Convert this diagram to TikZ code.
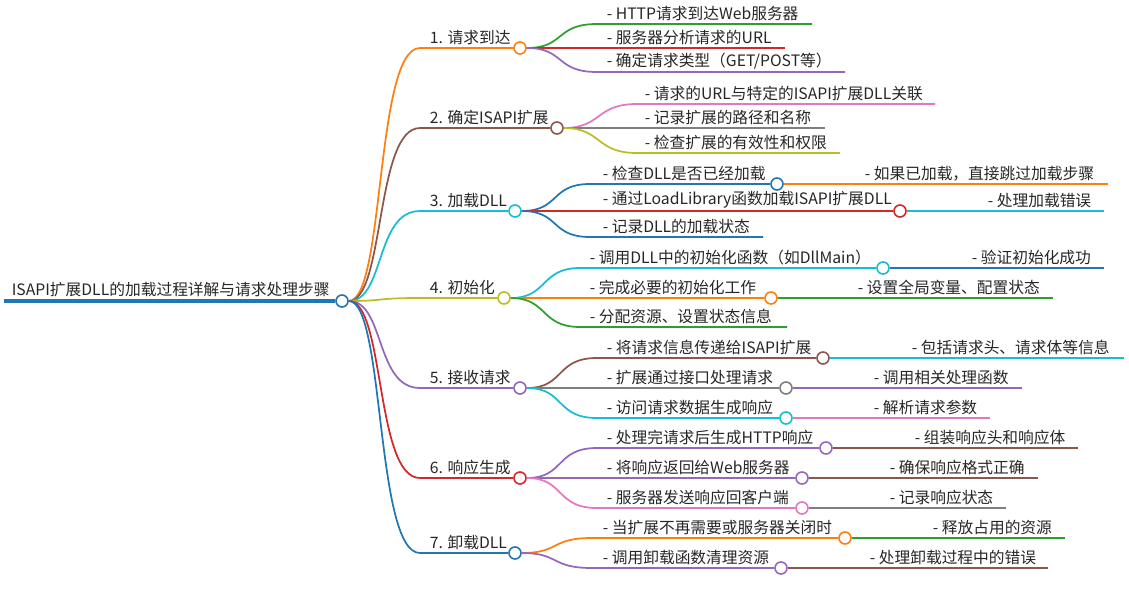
\documentclass[tikz,border=0pt]{standalone}
\usepackage{fontspec}
\setmainfont{Noto Sans CJK SC}
\definecolor{cblue}{HTML}{1F77B4}
\definecolor{corange}{HTML}{FF7F0E}
\definecolor{cgreen}{HTML}{2CA02C}
\definecolor{cred}{HTML}{D62728}
\definecolor{cpurple}{HTML}{9467BD}
\definecolor{cbrown}{HTML}{8C564B}
\definecolor{cpink}{HTML}{E377C2}
\definecolor{cgray}{HTML}{7F7F7F}
\definecolor{colive}{HTML}{BCBD22}
\definecolor{ccyan}{HTML}{17BECF}
\tikzset{every picture/.style={line width=0.75pt}}
\tikzset{
  txt/.style={anchor=south west,inner sep=1pt,font=\fontsize{11.8pt}{13pt}\selectfont,text=black!85},
  dot/.style={circle,draw=#1,fill=white,line width=1.2pt,minimum size=9pt,inner sep=0pt},
  edge/.style={draw=#1,line width=1.3pt},
}
\begin{document}
\begin{tikzpicture}[x=0.75pt,y=0.75pt,yscale=-1,xscale=1]
\useasboundingbox (0,0) rectangle (1129,594);

% Root
\node[txt] (root) at (10,299) {ISAPI扩展DLL的加载过程详解与请求处理步骤};
\coordinate (roots) at (4,301);
\node[dot=cblue] (rootc) at (342,301) {};
\draw[edge=cblue,line width=2.6pt] (roots) -- (rootc.west);

% Level 1
\node[txt] (b1) at (428,47) {1. 请求到达};
\node[txt] (b2) at (428,127) {2. 确定ISAPI扩展};
\node[txt] (b3) at (428,210) {3. 加载DLL};
\node[txt] (b4) at (428,297) {4. 初始化};
\node[txt] (b5) at (428,387) {5. 接收请求};
\node[txt] (b6) at (428,477) {6. 响应生成};
\node[txt] (b7) at (428,552) {7. 卸载DLL};
\coordinate (b1s) at (420,48);
\coordinate (b2s) at (420,128);
\coordinate (b3s) at (420,211);
\coordinate (b4s) at (420,298);
\coordinate (b5s) at (420,388);
\coordinate (b6s) at (420,478);
\coordinate (b7s) at (420,553);
\node[dot=corange] (b1c) at (520,48) {};
\node[dot=cbrown] (b2c) at (557,128) {};
\node[dot=ccyan] (b3c) at (515,211) {};
\node[dot=colive] (b4c) at (504,298) {};
\node[dot=cpurple] (b5c) at (520,388) {};
\node[dot=cred] (b6c) at (520,478) {};
\node[dot=cblue] (b7c) at (515,553) {};
\draw[edge=corange] (rootc.east) .. controls (385,301) and (375,48) .. (b1s) -- (b1c.west);
\draw[edge=cbrown] (rootc.east) .. controls (385,301) and (375,128) .. (b2s) -- (b2c.west);
\draw[edge=ccyan] (rootc.east) .. controls (385,301) and (375,211) .. (b3s) -- (b3c.west);
\draw[edge=colive] (rootc.east) .. controls (385,301) and (375,298) .. (b4s) -- (b4c.west);
\draw[edge=cpurple] (rootc.east) .. controls (385,301) and (375,388) .. (b5s) -- (b5c.west);
\draw[edge=cred] (rootc.east) .. controls (385,301) and (375,478) .. (b6s) -- (b6c.west);
\draw[edge=cblue] (rootc.east) .. controls (385,301) and (375,553) .. (b7s) -- (b7c.west);

% Level 2: 1
\node[txt] (c11) at (605,23) {- HTTP请求到达Web服务器};
\node[txt] (c12) at (605,47) {- 服务器分析请求的URL};
\node[txt] (c13) at (605,71) {- 确定请求类型（GET/POST等）};
\draw[edge=cgreen] (b1c.east) .. controls (565,48) and (555,24) .. (597,24) -- (812,24);
\draw[edge=cred] (b1c.east) -- (785,48);
\draw[edge=cpurple] (b1c.east) .. controls (565,48) and (555,72) .. (597,72) -- (845,72);
% Level 2: 2
\node[txt] (c21) at (643,103) {- 请求的URL与特定的ISAPI扩展DLL关联};
\node[txt] (c22) at (643,127) {- 记录扩展的路径和名称};
\node[txt] (c23) at (643,152) {- 检查扩展的有效性和权限};
\draw[edge=cpink] (b2c.east) .. controls (602,128) and (595,104) .. (637,104) -- (935,104);
\draw[edge=cgray] (b2c.east) -- (825,128);
\draw[edge=colive] (b2c.east) .. controls (602,128) and (595,153) .. (637,153) -- (840,153);
% Level 2: 3
\node[txt] (c31) at (601,183) {- 检查DLL是否已经加载};
\node[txt] (c32) at (601,210) {- 通过LoadLibrary函数加载ISAPI扩展DLL};
\node[txt] (c33) at (601,236) {- 记录DLL的加载状态};
\node[dot=cblue] (c31c) at (777,184) {};
\node[dot=cred] (c32c) at (900,211) {};
\draw[edge=cblue] (b3c.east) .. controls (560,211) and (550,184) .. (590,184) -- (c31c.west);
\draw[edge=cred] (b3c.east) -- (c32c.west);
\draw[edge=cblue] (b3c.east) .. controls (560,211) and (550,237) .. (590,237) -- (763,237);
\node[txt] (d31) at (863,183) {- 如果已加载，直接跳过加载步骤};
\node[txt] (d32) at (986,210) {- 处理加载错误};
\draw[edge=corange] (c31c.east) -- (1108,184);
\draw[edge=ccyan] (c32c.east) -- (1104,211);
% Level 2: 4
\node[txt] (c41) at (588,267) {- 调用DLL中的初始化函数（如DllMain）};
\node[txt] (c42) at (588,297) {- 完成必要的初始化工作};
\node[txt] (c43) at (588,326) {- 分配资源、设置状态信息};
\node[dot=ccyan] (c41c) at (883,268) {};
\node[dot=corange] (c42c) at (771,298) {};
\draw[edge=ccyan] (b4c.east) .. controls (548,298) and (540,268) .. (580,268) -- (c41c.west);
\draw[edge=corange] (b4c.east) -- (c42c.west);
\draw[edge=cgreen] (b4c.east) .. controls (548,298) and (540,327) .. (580,327) -- (787,327);
\node[txt] (d41) at (970,267) {- 验证初始化成功};
\node[txt] (d42) at (856,297) {- 设置全局变量、配置状态};
\draw[edge=cblue] (c41c.east) -- (1104,268);
\draw[edge=cgreen] (c42c.east) -- (1053,298);
% Level 2: 5
\node[txt] (c51) at (605,357) {- 将请求信息传递给ISAPI扩展};
\node[txt] (c52) at (605,387) {- 扩展通过接口处理请求};
\node[txt] (c53) at (605,417) {- 访问请求数据生成响应};
\node[dot=cbrown] (c51c) at (823,358) {};
\node[dot=cgray] (c52c) at (786,388) {};
\node[dot=ccyan] (c53c) at (786,418) {};
\draw[edge=cbrown] (b5c.east) .. controls (565,388) and (555,358) .. (597,358) -- (c51c.west);
\draw[edge=cgray] (b5c.east) -- (c52c.west);
\draw[edge=ccyan] (b5c.east) .. controls (565,388) and (555,418) .. (597,418) -- (c53c.west);
\node[txt] (d51) at (910,357) {- 包括请求头、请求体等信息};
\node[txt] (d52) at (872,387) {- 调用相关处理函数};
\node[txt] (d53) at (872,417) {- 解析请求参数};
\draw[edge=ccyan] (c51c.east) -- (1124,358);
\draw[edge=cpurple] (c52c.east) -- (1022,388);
\draw[edge=cpink] (c53c.east) -- (990,418);
% Level 2: 6
\node[txt] (c61) at (605,447) {- 处理完请求后生成HTTP响应};
\node[txt] (c62) at (605,477) {- 将响应返回给Web服务器};
\node[txt] (c63) at (605,507) {- 服务器发送响应回客户端};
\node[dot=cpurple] (c61c) at (826,448) {};
\node[dot=cpurple] (c62c) at (802,478) {};
\node[dot=cpink] (c63c) at (802,508) {};
\draw[edge=cpurple] (b6c.east) .. controls (565,478) and (555,448) .. (597,448) -- (c61c.west);
\draw[edge=cpurple] (b6c.east) -- (c62c.west);
\draw[edge=cpink] (b6c.east) .. controls (565,478) and (555,508) .. (597,508) -- (c63c.west);
\node[txt] (d61) at (913,447) {- 组装响应头和响应体};
\node[txt] (d62) at (888,477) {- 确保响应格式正确};
\node[txt] (d63) at (888,507) {- 记录响应状态};
\draw[edge=cbrown] (c61c.east) -- (1078,448);
\draw[edge=cbrown] (c62c.east) -- (1038,478);
\draw[edge=cgray] (c63c.east) -- (1006,508);
% Level 2: 7
\node[txt] (c71) at (601,537) {- 当扩展不再需要或服务器关闭时};
\node[txt] (c72) at (601,567) {- 调用卸载函数清理资源};
\node[dot=corange] (c71c) at (845,538) {};
\node[dot=cpurple] (c72c) at (781,568) {};
\draw[edge=corange] (b7c.east) .. controls (560,553) and (550,538) .. (592,538) -- (c71c.west);
\draw[edge=cpurple] (b7c.east) .. controls (560,553) and (550,568) .. (592,568) -- (c72c.west);
\node[txt] (d71) at (931,537) {- 释放占用的资源};
\node[txt] (d72) at (868,567) {- 处理卸载过程中的错误};
\draw[edge=cgreen] (c71c.east) -- (1065,538);
\draw[edge=cbrown] (c72c.east) -- (1048,568);

\end{tikzpicture}
\end{document}
